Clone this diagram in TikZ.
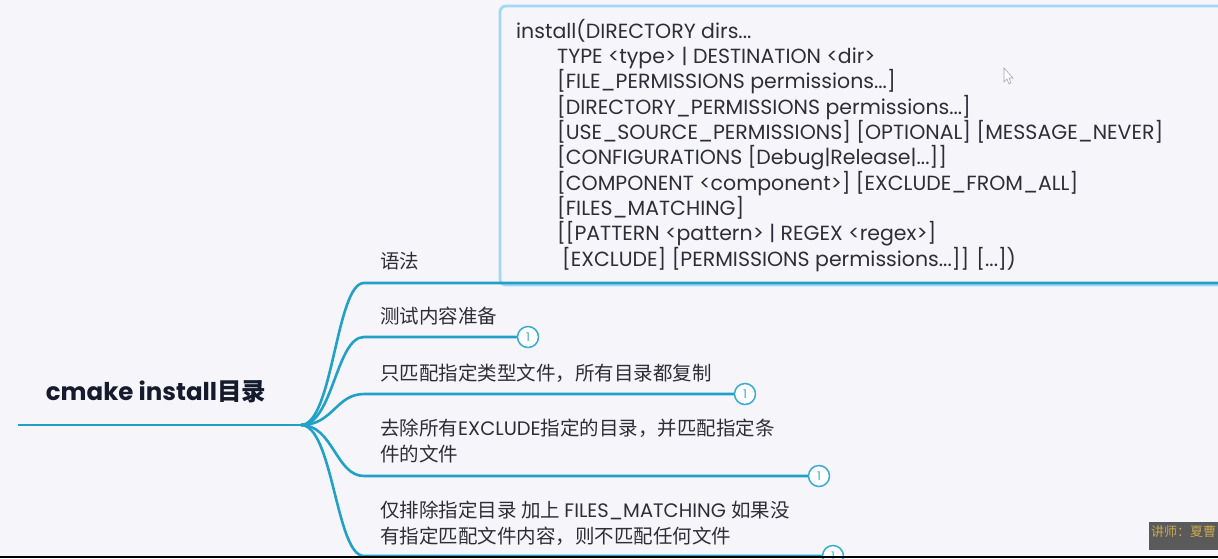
\documentclass[tikz,border=0pt]{standalone}
\usepackage{fontspec}
\setmainfont{Poppins}
\newfontfamily\cjk{Noto Sans CJK SC}
\usetikzlibrary{positioning}

\definecolor{bgcol}{HTML}{F6F5FA}
\definecolor{branchcol}{HTML}{22A1C8}
\definecolor{boxcol}{HTML}{A3D8F5}
\definecolor{txtcol}{HTML}{2E2E36}
\definecolor{rootcol}{HTML}{151B2C}
\definecolor{badgecol}{HTML}{3AABD3}
\definecolor{markcol}{HTML}{5A5A5A}
\definecolor{goldcol}{HTML}{C9A851}

\tikzset{
    branch/.style={draw=branchcol, line width=2.6pt},
    topic/.style={anchor=west, inner sep=0pt, align=left, text=txtcol,
        font=\fontsize{19.5}{26}\selectfont},
    badge/.style={circle, draw=badgecol, line width=1.5pt, fill=white,
        minimum size=21pt, inner sep=0pt, text=badgecol,
        font=\fontsize{12}{12}\selectfont},
}

\begin{document}
\begin{tikzpicture}[x=1pt, y=-1pt]
        \useasboundingbox (0,0) rectangle (1218,558);
        \fill[bgcol] (0,0) rectangle (1218,558);

        % syntax box
        \draw[boxcol, line width=2.8pt, rounded corners=6pt] (500,6) rectangle (1240,285);
        \node[anchor=north west, inner sep=0pt, align=left, text=txtcol,
            font=\fontsize{20.5}{25.3}\selectfont] (syntax) at (516,19) {%
            install(DIRECTORY dirs...\\
            \hspace*{41pt}TYPE <type> | DESTINATION <dir>\\
            \hspace*{41pt}[FILE\_PERMISSIONS permissions...]\\
            \hspace*{41pt}[DIRECTORY\_PERMISSIONS permissions...]\\
            \hspace*{41pt}[USE\_SOURCE\_PERMISSIONS] [OPTIONAL] [MESSAGE\_NEVER]\\
            \hspace*{41pt}[CONFIGURATIONS [Debug|Release|...]]\\
            \hspace*{41pt}[COMPONENT <component>] [EXCLUDE\_FROM\_ALL]\\
            \hspace*{41pt}[FILES\_MATCHING]\\
            \hspace*{41pt}[[PATTERN <pattern> | REGEX <regex>]\\
            \hspace*{46pt}[EXCLUDE] [PERMISSIONS permissions...]] [...])};

        % root
        \node[inner sep=0pt, text=rootcol, font=\bfseries\fontsize{24.5}{28}\selectfont]
            (root) at (156,392) {cmake install{\cjk 目录}};
        \coordinate (rootL) at (18,425);
        \coordinate (hub) at (301,425);
        \draw[branch] (rootL) -- (hub);

        % topics
        \node[topic] (t1) at (380,261) {\cjk 语法};
        \node[topic] (t2) at (380,316) {\cjk 测试内容准备};
        \node[topic] (t3) at (380,373) {\cjk 只匹配指定类型文件，所有目录都复制};
        \node[topic] (t4) at (380,441) {{\cjk 去除所有}EXCLUDE{\cjk 指定的目录，并匹配指定条}\\{\cjk 件的文件}};
        \node[topic] (t5) at (380,523) {{\cjk 仅排除指定目录 加上 }FILES\_MATCHING\ {\cjk 如果没}\\{\cjk 有指定匹配文件内容，则不匹配任何文件}};

        % badges
        \foreach \i/\x/\y in {2/528/337,3/745/394,4/819/476,5/833/556} {
            \node[badge] (b\i) at (\x,\y) {1};
        }
        \coordinate (b1) at (1240,283);

        % branches
        \foreach \i/\y in {1/283,2/337,3/394,4/476,5/556} {
            \coordinate (s\i) at (364,\y);
            \draw[branch] (hub) .. controls +(32,0) and +(-28,0) .. (s\i) -- (b\i.west);
        }

        % cursor
        \draw[gray!70, line width=0.6pt, fill=white]
            (1004,68) -- (1004,82) -- (1007,79) -- (1009,84) -- (1011,83)
            -- (1009,78) -- (1013,78) -- cycle;

        % lecturer mark
        \begin{scope}
            \clip (1149,522) rectangle (1218,550);
            \fill[markcol] (1149,522) rectangle (1218,550);
            \node[anchor=west, inner sep=0pt, text=goldcol,
                font=\cjk\fontsize{13}{13}\selectfont] (mark) at (1151,532) {讲师：夏曹};
        \end{scope}

        \fill[black] (0,555.5) rectangle (1218,558);
    \end{tikzpicture}
\end{document}
